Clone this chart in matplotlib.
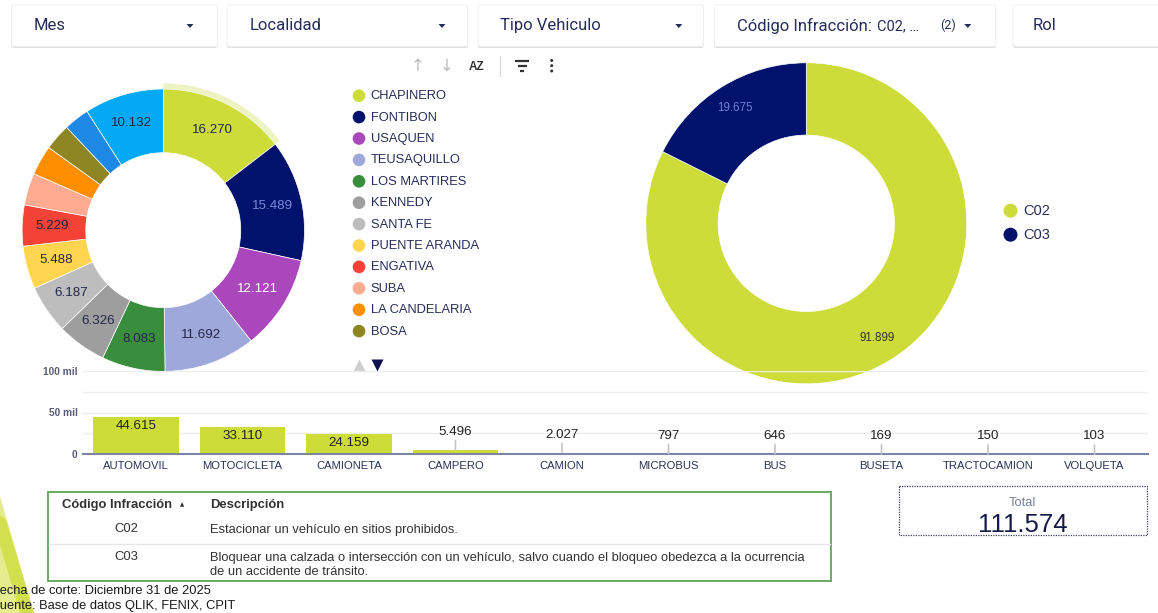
import matplotlib
matplotlib.use("Agg")
import matplotlib.pyplot as plt
import numpy as np
from matplotlib.patches import Rectangle, Wedge, Circle, Polygon, FancyBboxPatch

W, H = 1158, 613

# ---------------- data ----------------
filtros = ["Mes", "Localidad", "Tipo Vehiculo", "Código Infracción:", "Rol"]

localidades = ["CHAPINERO", "FONTIBON", "USAQUEN", "TEUSAQUILLO", "LOS MARTIRES",
               "KENNEDY", "SANTA FE", "PUENTE ARANDA", "ENGATIVA", "SUBA",
               "LA CANDELARIA", "BOSA", "OTRA LOCALIDAD", "OTRAS"]
infracciones_localidad = [16270, 15489, 12121, 11692, 8083, 6326, 6187, 5488,
                          5229, 4100, 3800, 3400, 3257, 10132]
colores_localidad = ["#cddc39", "#00126b", "#ab47bc", "#9fa8da", "#388e3c",
                     "#9e9e9e", "#bdbdbd", "#ffd54f", "#f44336", "#ffab91",
                     "#ff8f00", "#8d8622", "#1e88e5", "#03a9f4"]
leyenda_visible = 12

codigos = ["C02", "C03"]
infracciones_codigo = [91899, 19675]
colores_codigo = ["#cddc39", "#00126b"]

tipos_vehiculo = ["AUTOMOVIL", "MOTOCICLETA", "CAMIONETA", "CAMPERO", "CAMION",
                  "MICROBUS", "BUS", "BUSETA", "TRACTOCAMION", "VOLQUETA"]
infracciones_vehiculo = [44615, 33110, 24159, 5496, 2027, 797, 646, 169, 150, 103]
ticks_vehiculo = [0, 50000, 100000]
ticks_vehiculo_lbl = ["0", "50 mil", "100 mil"]

descripciones = ["Estacionar un vehículo en sitios prohibidos.",
                 "Bloquear una calzada o intersección con un vehículo, salvo cuando el bloqueo obedezca a la ocurrencia\nde un accidente de tránsito."]
total = 111574
fecha_corte = "Fecha de corte: Diciembre 31 de 2025"
fuente = "Fuente: Base de datos QLIK, FENIX, CPIT"


def fmt(v):
    return f"{v:,}".replace(",", ".")


NAVY_TXT = "#262c5a"
FONT = "Liberation Sans"
plt.rcParams["font.family"] = [FONT, "DejaVu Sans"]

fig = plt.figure(figsize=(W / 100, H / 100), dpi=100)
fig.patch.set_facecolor("white")


def px(x, y, w, h):
    return [x / W, 1 - (y + h) / H, w / W, h / H]


ov = fig.add_axes([0, 0, 1, 1], zorder=0)
ov.set_xlim(0, W)
ov.set_ylim(H, 0)
ov.axis("off")

# ---------------- filter bar ----------------
boxes = [(11.5, 217.4), (227, 467.7), (478, 703.5), (714.5, 995.8), (1013, 1175)]
for (x0, x1) in boxes:
    ov.add_patch(FancyBboxPatch((x0, 6.5), x1 - x0, 41.5, boxstyle="round,pad=0,rounding_size=2",
                                fc="#d6d6d6", ec="none", alpha=0.8))
    ov.add_patch(FancyBboxPatch((x0, 5), x1 - x0, 41.5, boxstyle="round,pad=0,rounding_size=2",
                                fc="white", ec="#ececec", lw=0.6))
txt_x = [33.7, 249.5, 500, 736.7, 1032.6]
for t, x in zip(filtros, txt_x):
    ov.text(x, 25.5, t, fontsize=12, family="Roboto", color=NAVY_TXT, va="center", ha="left")
ov.text(877, 26, "C02, …", fontsize=10.5, family="Roboto", color=NAVY_TXT, va="center", ha="left")
ov.text(940, 25.5, "(2)", fontsize=9, family="Roboto", color=NAVY_TXT, va="center", ha="left")
for cx in [190, 442, 678.8, 967.8]:
    ov.add_patch(Polygon([[cx - 3.5, 24], [cx + 3.5, 24], [cx, 28]], closed=True, fc=NAVY_TXT, ec="none"))

# ---------------- toolbar ----------------
ov.text(417.3, 66, "↑", fontsize=12, family="DejaVu Sans", color="#bdbdbd", ha="center", va="center")
ov.text(446.7, 66, "↓", fontsize=12, family="DejaVu Sans", color="#bdbdbd", ha="center", va="center")
ov.text(476.7, 67, "AZ", fontsize=8.5, fontweight="bold", color="#333333", ha="center", va="center")
ov.plot([500, 500], [56, 76], color="#dddddd", lw=1)
for yy, ww in [(60.5, 14), (65.5, 9), (70.5, 4)]:
    ov.plot([522 - ww / 2, 522 + ww / 2], [yy, yy], color="#333333", lw=1.6, solid_capstyle="butt")
for yy in [60.5, 65.7, 71]:
    ov.add_patch(Circle((551.7, yy), 1.5, fc="#333333", ec="none"))

# ---------------- left donut ----------------
cx1, cy1, R1 = 163.3, 230.2, 141.2
S1 = 152
ax1 = fig.add_axes(px(cx1 - S1, cy1 - S1, 2 * S1, 2 * S1), zorder=2)
wedges1, _ = ax1.pie(infracciones_localidad, colors=colores_localidad, startangle=90,
                     counterclock=False, radius=1,
                     wedgeprops=dict(width=1 - 77.5 / R1, edgecolor="white", linewidth=0.5))
ax1.set_xlim(-S1 / R1, S1 / R1)
ax1.set_ylim(-S1 / R1, S1 / R1)
ax1.set_aspect("equal")
ax1.axis("off")
w0 = wedges1[0]
ax1.add_patch(Wedge((0, 0), 1.04, w0.theta1, w0.theta2, width=0.04, fc="#edf3c2", ec="none"))
lbl_colors = {1: "#7b88d8", 2: "white"}
rl = (1 + 77.5 / R1) / 2 * 1.02
for i, (w, v) in enumerate(zip(wedges1, infracciones_localidad)):
    if v < 5000:
        continue
    m = np.deg2rad((w.theta1 + w.theta2) / 2)
    ax1.text(rl * np.cos(m), rl * np.sin(m), fmt(v), ha="center", va="center",
             fontsize=9.6, color=lbl_colors.get(i, "#23264a"))

# left legend
for i in range(leyenda_visible):
    y = 95.7 + i * 21.4
    ov.add_patch(Circle((359, y), 6.3, fc=colores_localidad[i], ec="none"))
    ov.text(370.7, y + 0.5, localidades[i], fontsize=9.3, color=NAVY_TXT, va="center", ha="left")
ov.plot([359], [365], marker="^", markersize=9, color="#cfcfcf", mec="none")
ov.plot([377.3], [365], marker="v", markersize=9, color="#0d1450", mec="none")

# ---------------- right donut ----------------
cx2, cy2, R2 = 806.3, 223.3, 160.5
S2 = 170
ax2 = fig.add_axes(px(cx2 - S2, cy2 - S2, 2 * S2, 2 * S2), zorder=1)
wedges2, _ = ax2.pie(infracciones_codigo, colors=colores_codigo, startangle=90,
                     counterclock=False, radius=1,
                     wedgeprops=dict(width=1 - 88.2 / R2, edgecolor="white", linewidth=0.5))
ax2.set_xlim(-S2 / R2, S2 / R2)
ax2.set_ylim(-S2 / R2, S2 / R2)
ax2.set_aspect("equal")
ax2.axis("off")
lbl2_colors = ["#333333", "#6f7fd6"]
for w, v, c in zip(wedges2, infracciones_codigo, lbl2_colors):
    m = np.deg2rad((w.theta1 + w.theta2) / 2)
    ax2.text(0.842 * np.cos(m), 0.842 * np.sin(m), fmt(v), ha="center", va="center",
             fontsize=8.4, color=c)
for i, (c, col) in enumerate(zip(codigos, colores_codigo)):
    y = 210.7 + i * 24
    ov.add_patch(Circle((1010.5, y), 7, fc=col, ec="none"))
    ov.text(1023.5, y + 0.5, c, fontsize=10.5, color=NAVY_TXT, va="center", ha="left")

# ---------------- bar chart ----------------
ax3 = fig.add_axes(px(82.75, 370.7, 1065, 83.6), zorder=3)
ax3.patch.set_alpha(0)
xs = np.arange(len(tipos_vehiculo))
for g in [25000, 50000, 75000, 100000]:
    ax3.axhline(g, color="#ededed", lw=1, zorder=0)
ax3.bar(xs, infracciones_vehiculo, width=0.8, color="#cddc39", zorder=2)
ax3.set_xlim(-0.5, len(tipos_vehiculo) - 0.5)
ax3.set_ylim(0, 100000)
for s in ["top", "right", "left"]:
    ax3.spines[s].set_visible(False)
ax3.spines["bottom"].set_color("#7d84a6")
ax3.spines["bottom"].set_linewidth(1.5)
ax3.spines["bottom"].set_zorder(4)
ax3.set_yticks(ticks_vehiculo, ticks_vehiculo_lbl)
ax3.set_xticks(xs, tipos_vehiculo)
ax3.tick_params(axis="y", length=0, pad=3.8, labelsize=7.3, labelcolor="#595d78")
for t in ax3.get_yticklabels():
    t.set_fontweight("bold")
ax3.tick_params(axis="x", length=0, pad=5.0, labelsize=8.1, labelcolor="#2b3158")
for x, v in zip(xs, infracciones_vehiculo):
    if v > 10000:
        ax3.annotate(fmt(v), (x, v), xytext=(0, -6.4), textcoords="offset points",
                     ha="center", va="center", fontsize=9.6, color="#222222", zorder=5)
    else:
        ax3.annotate(fmt(v), (x, v), xytext=(0, 13), textcoords="offset points",
                     ha="center", va="center", fontsize=9.6, color="#222222", zorder=5,
                     arrowprops=dict(arrowstyle="-", color="#c4c4c4", lw=1.2,
                                     shrinkA=0, shrinkB=0))

# ---------------- table ----------------
ov.add_patch(Rectangle((47.8, 491.7), 830.6 - 47.8, 580.7 - 491.7, fc="white",
                       ec="#6aaa64", lw=1.4))
ov.text(62.4, 505, "Código Infracción", fontsize=9.4, fontweight="bold", color="#333333",
        va="center", ha="left")
ov.text(182, 505, "▲", fontsize=4, family="DejaVu Sans", color="#333333", va="center", ha="center")
ov.text(210.5, 505, "Descripción", fontsize=9.4, fontweight="bold", color="#333333",
        va="center", ha="left")
ov.plot([48.5, 830], [544, 544], color="#e6e6e6", lw=1)
row_y = [529.5, 557.5]
for c, d, y in zip(codigos, descripciones, row_y):
    ov.text(126.5, y, c, fontsize=9.4, color="#333333", va="center", ha="center")
    for k, line in enumerate(d.split("\n")):
        ov.text(210.5, y + k * 14.5, line, fontsize=9.3, color="#333333", va="center", ha="left")

# ---------------- KPI ----------------
ov.add_patch(Rectangle((898.8, 486), 1146.5 - 898.8, 535 - 486, fc="white", ec="#3a3f66",
                       lw=0.9, ls=(0, (1, 1))))
ov.text(1022, 502.7, "Total", fontsize=9.3, color="#7a7f99", ha="center", va="center")
ov.text(1022.5, 525, fmt(total), fontsize=18.5, color="#151a4a", ha="center", va="center")

# ---------------- footer ----------------
ov.add_patch(Polygon([[0, 496], [34, 613], [0, 613]], closed=True, fc="#e4ec8f", ec="none"))
ov.add_patch(Polygon([[0, 515], [6, 520], [34, 613], [20, 613], [0, 545]], closed=True,
                     fc="#d3e04e", ec="none"))
ov.text(-8, 591, fecha_corte, fontsize=9.3, color="#1a1a1a", ha="left", va="center")
ov.text(-8, 606, fuente, fontsize=9.3, color="#1a1a1a", ha="left", va="center")

fig.savefig("out.png", dpi=100, facecolor="white")
